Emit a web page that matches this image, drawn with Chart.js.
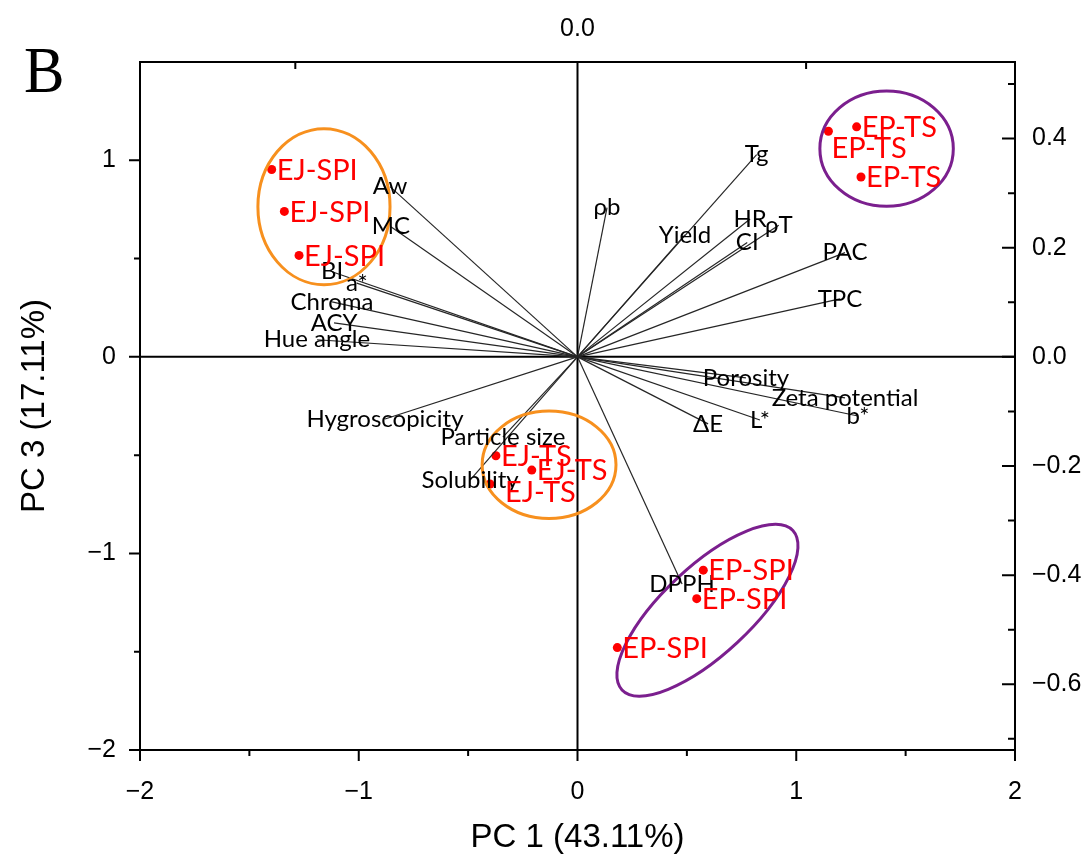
<!DOCTYPE html>
<html>
<head>
<meta charset="utf-8">
<script src="https://cdn.jsdelivr.net/npm/chart.js@4"></script>
<style>
  body { margin: 0; background: #fff; }
  canvas { display: block; }
</style>
</head>
<body>
<canvas id="biplot" width="1092" height="864"></canvas>
<script>
// Sample scores (PC 1, PC 3)
const scoreNames = ['EJ-SPI', 'EJ-SPI', 'EJ-SPI', 'EJ-TS', 'EJ-TS', 'EJ-TS',
                    'EP-TS', 'EP-TS', 'EP-TS', 'EP-SPI', 'EP-SPI', 'EP-SPI'];
const scorePC1 = [-1.398, -1.340, -1.273, -0.373, -0.209, -0.400,
                   1.276,  1.147,  1.296,  0.575,  0.545,  0.182];
const scorePC3 = [ 0.953,  0.740,  0.516, -0.503, -0.576, -0.647,
                   1.170,  1.148,  0.915, -1.085, -1.230, -1.479];
// where each sample label sits relative to its dot
const scoreLabelSide = ['right', 'right', 'right', 'right', 'right', 'lowRight',
                        'right', 'below', 'right', 'right', 'right', 'right'];

// Variable loadings (drawn in the PC 1 / PC 3 plane)
const loadingNames = ['Tg', 'ρb', 'Yield', 'HR', 'CI', 'ρT', 'PAC', 'TPC',
                      'Porosity', 'Zeta potential', 'b*', 'L*', 'ΔE', 'DPPH',
                      'Aw', 'MC', 'BI', 'a*', 'Chroma', 'ACY', 'Hue angle',
                      'Hygroscopicity', 'Particle size', 'Solubility'];
const loadingPC1 = [0.819, 0.135, 0.491, 0.789, 0.776, 0.920, 1.223, 1.200,
                    0.770, 1.223, 1.282, 0.834, 0.597, 0.478,
                    -0.857, -0.853, -1.122, -1.009, -1.122, -1.113, -1.191,
                    -0.880, -0.341, -0.491];
const loadingPC3 = [1.029, 0.759, 0.621, 0.701, 0.582, 0.670, 0.530, 0.295,
                    -0.107, -0.209, -0.301, -0.321, -0.341, -1.156,
                    0.866, 0.662, 0.433, 0.375, 0.280, 0.173, 0.087,
                    -0.316, -0.408, -0.627];

// Group ellipses: centre, semi-axes (x units / y units), rotation in degrees
const ellipseCx  = [-1.159, -0.130, 1.413, 0.594];
const ellipseCy  = [ 0.764, -0.549, 1.059, -1.289];
const ellipseRx  = [ 0.302,  0.306, 0.305, 0.534];
const ellipseRy  = [ 0.397,  0.273, 0.293, 0.224];
const ellipseRot = [0, 0, 0, -43];
const ellipseColors = ['#f7901e', '#f7901e', '#7b1f8e', '#7b1f8e'];

// Axes
const xRange = [-2, 2];
const yRange = [-2, 1.5];
const y2Range = [-0.7204, 0.5403];
const xTicks = [-2, -1, 0, 1, 2];
const xMinorTicks = [-1.5, -0.5, 0.5, 1.5];
const yTicks = [-2, -1, 0, 1];
const yMinorTicks = [-1.5, -0.5, 0.5];
const y2Ticks = [-0.6, -0.4, -0.2, 0.0, 0.2, 0.4];
const y2MinorTicks = [-0.7, -0.5, -0.3, -0.1, 0.1, 0.3, 0.5];
const x2Ticks = [0];
const x2MinorTicks = [-1.29, 1.045];

const TICK_FONT = { family: 'Liberation Sans, Arial, sans-serif', size: 25 };
const TITLE_FONT = { family: 'Liberation Sans, Arial, sans-serif', size: 33 };
const LABEL_FONT = '24px Lato, "Open Sans", sans-serif';
const SCORE_FONT = '29px Lato, "Open Sans", sans-serif';

function fmtInt(v) {
  return v < 0 ? '\u2212' + Math.abs(v) : String(v);
}
function fmtDec(v) {
  const s = Math.abs(v).toFixed(1);
  return v < -1e-9 ? '\u2212' + s : s;
}

const loadingSets = loadingNames.map((name, i) => ({
  label: name,
  data: [{ x: 0, y: 0 }, { x: loadingPC1[i], y: loadingPC3[i] }],
  showLine: true,
  borderColor: '#262626',
  borderWidth: 1.2,
  pointRadius: 0,
  fill: false
}));

const scoreSet = {
  label: 'scores',
  data: scoreNames.map((n, i) => ({ x: scorePC1[i], y: scorePC3[i] })),
  pointRadius: 4.5,
  pointBackgroundColor: '#ff0000',
  pointBorderWidth: 0
};

// zero lines, ellipses, labels, tick marks and the panel letter
const biplotDecor = {
  id: 'biplotDecor',
  beforeDatasetsDraw(chart) {
    const { ctx, chartArea: a, scales: { x, y } } = chart;
    ctx.save();
    ctx.strokeStyle = '#000';
    ctx.lineWidth = 2;
    ctx.beginPath();
    ctx.moveTo(a.left, y.getPixelForValue(0));
    ctx.lineTo(a.right, y.getPixelForValue(0));
    ctx.moveTo(x.getPixelForValue(0), a.top);
    ctx.lineTo(x.getPixelForValue(0), a.bottom);
    ctx.stroke();
    ctx.restore();
  },
  afterDatasetsDraw(chart) {
    const { ctx, scales: { x, y } } = chart;
    const ux = Math.abs(x.getPixelForValue(1) - x.getPixelForValue(0));
    const uy = Math.abs(y.getPixelForValue(1) - y.getPixelForValue(0));

    ctx.save();
    ellipseCx.forEach((cx, i) => {
      ctx.beginPath();
      ctx.ellipse(x.getPixelForValue(cx), y.getPixelForValue(ellipseCy[i]),
        ellipseRx[i] * ux, ellipseRy[i] * uy, ellipseRot[i] * Math.PI / 180, 0, Math.PI * 2);
      ctx.strokeStyle = ellipseColors[i];
      ctx.lineWidth = 3;
      ctx.stroke();
    });

    // variable names at the tips of the loading lines
    ctx.font = LABEL_FONT;
    ctx.fillStyle = '#000';
    ctx.textAlign = 'center';
    ctx.textBaseline = 'middle';
    loadingNames.forEach((name, i) => {
      ctx.fillText(name, x.getPixelForValue(loadingPC1[i]), y.getPixelForValue(loadingPC3[i]));
    });

    // sample names
    ctx.font = SCORE_FONT;
    ctx.fillStyle = '#ff0000';
    ctx.textAlign = 'left';
    const offsets = { right: [5, 1], lowRight: [15, 9], below: [3, 17] };
    scoreNames.forEach((name, i) => {
      const o = offsets[scoreLabelSide[i]];
      ctx.fillText(name, x.getPixelForValue(scorePC1[i]) + o[0], y.getPixelForValue(scorePC3[i]) + o[1]);
    });
    ctx.restore();
  },
  afterDraw(chart) {
    const { ctx, chartArea: a, scales: { x, y, x2, y2 } } = chart;
    ctx.save();
    ctx.strokeStyle = '#000';
    ctx.lineWidth = 2;
    ctx.beginPath();
    xTicks.forEach(v => { const p = x.getPixelForValue(v); ctx.moveTo(p, a.bottom); ctx.lineTo(p, a.bottom + 11); });
    xMinorTicks.forEach(v => { const p = x.getPixelForValue(v); ctx.moveTo(p, a.bottom); ctx.lineTo(p, a.bottom + 6); });
    yTicks.forEach(v => { const p = y.getPixelForValue(v); ctx.moveTo(a.left, p); ctx.lineTo(a.left - 11, p); });
    yMinorTicks.forEach(v => { const p = y.getPixelForValue(v); ctx.moveTo(a.left, p); ctx.lineTo(a.left - 6, p); });
    y2Ticks.forEach(v => { const p = y2.getPixelForValue(v); ctx.moveTo(a.right, p); ctx.lineTo(a.right - 13, p); });
    y2MinorTicks.forEach(v => { const p = y2.getPixelForValue(v); ctx.moveTo(a.right, p); ctx.lineTo(a.right - 7, p); });
    x2MinorTicks.forEach(v => { const p = x2.getPixelForValue(v); ctx.moveTo(p, a.top); ctx.lineTo(p, a.top + 7); });
    ctx.stroke();

    // panel letter
    ctx.fillStyle = '#000';
    ctx.font = '66px "Liberation Serif", "Times New Roman", serif';
    ctx.textAlign = 'left';
    ctx.textBaseline = 'alphabetic';
    ctx.translate(24, 92);
    ctx.scale(0.92, 1);
    ctx.fillText('B', 0, 0);
    ctx.restore();
  }
};

const noGrid = { display: false, drawTicks: false };
const axisBorder = { display: true, color: '#000', width: 2 };

new Chart(document.getElementById('biplot'), {
  type: 'scatter',
  data: { datasets: [...loadingSets, scoreSet] },
  options: {
    responsive: false,
    animation: false,
    devicePixelRatio: 1,
    plugins: { legend: { display: false }, tooltip: { enabled: false } },
    layout: { padding: 0 },
    scales: {
      x: {
        type: 'linear', position: 'bottom', min: xRange[0], max: xRange[1],
        afterBuildTicks: s => { s.ticks = xTicks.map(v => ({ value: v })); },
        afterFit: s => { s.height = 114; },
        grid: noGrid, border: axisBorder,
        ticks: { callback: fmtInt, font: TICK_FONT, color: '#000', padding: 27, autoSkip: false, maxRotation: 0 },
        title: { display: true, text: 'PC 1 (43.11%)', font: TITLE_FONT, color: '#000', padding: { top: 0, bottom: 6 } }
      },
      x2: {
        type: 'linear', position: 'top', min: xRange[0], max: xRange[1],
        afterBuildTicks: s => { s.ticks = x2Ticks.map(v => ({ value: v })); },
        afterFit: s => { s.height = 62; },
        grid: noGrid, border: axisBorder,
        ticks: { callback: fmtDec, font: TICK_FONT, color: '#000', padding: 18, autoSkip: false, maxRotation: 0 }
      },
      y: {
        type: 'linear', position: 'left', min: yRange[0], max: yRange[1],
        afterBuildTicks: s => { s.ticks = yTicks.map(v => ({ value: v })); },
        afterFit: s => { s.width = 140; },
        grid: noGrid, border: axisBorder,
        ticks: { callback: fmtInt, font: TICK_FONT, color: '#000', padding: 24, autoSkip: false },
        title: { display: true, text: 'PC 3 (17.11%)', font: TITLE_FONT, color: '#000', padding: { top: 15, bottom: 0 } }
      },
      y2: {
        type: 'linear', position: 'right', min: y2Range[0], max: y2Range[1],
        afterBuildTicks: s => { s.ticks = y2Ticks.map(v => ({ value: v })); },
        afterFit: s => { s.width = 77; },
        grid: noGrid, border: axisBorder,
        ticks: { callback: fmtDec, font: TICK_FONT, color: '#000', padding: 17, autoSkip: false }
      }
    }
  },
  plugins: [biplotDecor]
});
</script>
</body>
</html>
